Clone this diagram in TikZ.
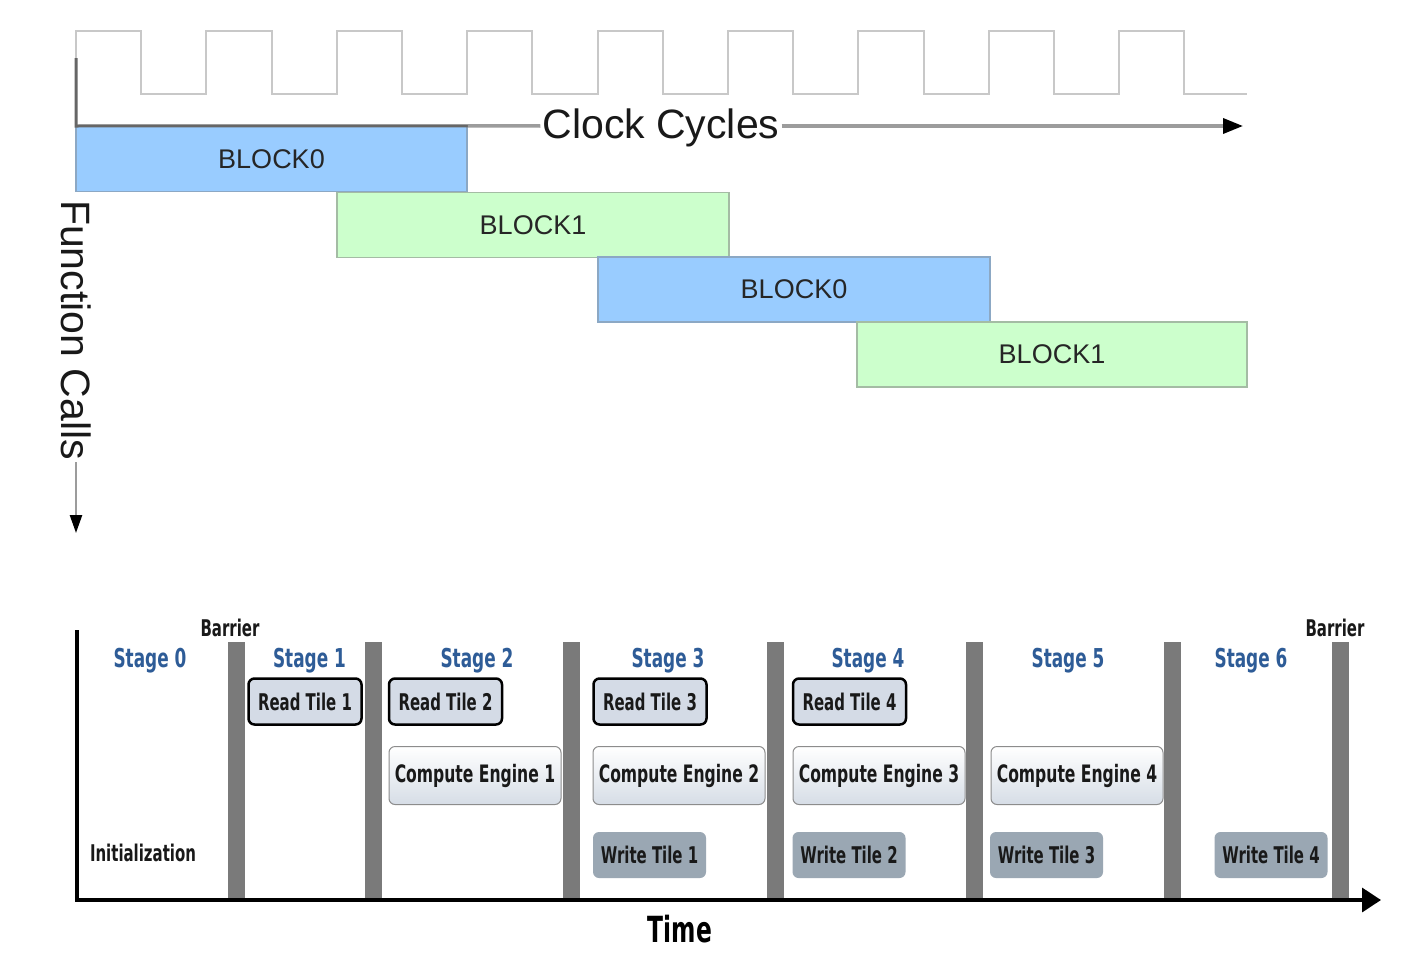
\documentclass[tikz,border=0pt]{standalone}
\usepackage{fontspec}
\setmainfont{Liberation Sans}
\newfontfamily\condsans[FakeStretch=0.65]{DejaVu Sans}
\usetikzlibrary{arrows.meta}

\definecolor{blkblue}{HTML}{99CCFF}
\definecolor{blkblueedge}{HTML}{8CA8C4}
\definecolor{blkgreen}{HTML}{CCFFCC}
\definecolor{blkgreenedge}{HTML}{A4BCA4}
\definecolor{wavegray}{HTML}{C8C8C8}
\definecolor{axisgray}{HTML}{9C9C9C}
\definecolor{stageblue}{HTML}{2E5C97}
\definecolor{readfill}{HTML}{D4DBE6}
\definecolor{writefill}{HTML}{9AA7B3}
\definecolor{computebot}{HTML}{D6DDE6}
\definecolor{barfill}{HTML}{7A7A7A}

\tikzset{
  blk/.style={minimum height=65, inner sep=0, line width=1.5,
              font=\fontsize{27}{27}\selectfont, text=black!85},
  blkA/.style={blk, fill=blkblue, draw=blkblueedge},
  blkB/.style={blk, fill=blkgreen, draw=blkgreenedge},
  tile/.style={rounded corners=6, inner sep=0,
               font=\condsans\bfseries\fontsize{23}{23}\selectfont, text=black!90},
  readtile/.style={tile, fill=readfill, draw=black, line width=2.5,
                   minimum width=113, minimum height=46},
  compute/.style={tile, top color=white, bottom color=computebot,
                  draw=black!45, line width=1, minimum width=172, minimum height=58,
                  font=\condsans\bfseries\fontsize{24}{24}\selectfont},
  writetile/.style={tile, fill=writefill, minimum width=113, minimum height=46},
  stagelbl/.style={anchor=base, font=\condsans\bfseries\fontsize{26}{26}\selectfont,
                   text=stageblue},
  plainlbl/.style={anchor=base, font=\condsans\bfseries\fontsize{23}{23}\selectfont,
                   text=black!90},
  barrier/.style={fill=barfill, minimum width=17, minimum height=258, inner sep=0},
  bigaxis/.style={font=\fontsize{41}{41}\selectfont, inner sep=2, text=black!90},
}

\begin{document}
\begin{tikzpicture}[x=1pt, y=-1pt]
\useasboundingbox (0,0) rectangle (1419,953);
\fill[white] (0,0) rectangle (1419,953);

% ---------- clock signal ----------
\draw[wavegray, line width=2]
  (76,58) -- (76,31) -| (141.2,94) -| (206.4,31) -| (271.6,94) -| (336.8,31)
  -| (402,94) -| (467.2,31) -| (532.4,94) -| (597.6,31) -| (662.8,94)
  -| (728,31) -| (793.2,94) -| (858.4,31) -| (923.6,94) -| (988.8,31)
  -| (1054,94) -| (1119.2,31) -| (1184.4,94) -- (1247,94);

% ---------- function call blocks ----------
\node[blkA, minimum width=391] (b1) at (271.5,159)   {BLOCK0};
\node[blkB, minimum width=392] (b2) at (533,225)     {BLOCK1};
\node[blkA, minimum width=392] (b3) at (794,289.5)   {BLOCK0};
\node[blkB, minimum width=390] (b4) at (1052,354.5)  {BLOCK1};

% ---------- axes of the upper chart ----------
\coordinate (corner) at (76,126);
\coordinate (ytop) at (76,58);
\node[bigaxis] (clk) at (661,128) {Clock Cycles};
\coordinate (clkend) at (1243,126);
\node[bigaxis, rotate=-90] (fc) at (76,330) {Function Calls};
\coordinate (fcend) at (76,533);

\draw[black!60, line width=3] (ytop) -- (corner) -- (b1.north east);
\draw[axisgray, line width=3.5] (b1.north east) -- (clk.west |- corner);
\draw[axisgray, line width=3.5, -{Triangle[length=20, width=15, color=black]}]
  (clk.east |- corner) -- (clkend);
\draw[axisgray, line width=2.5, -{Triangle[length=18, width=12, color=black]}]
  (fc.east) -- (fcend);

% ---------- pipeline stages ----------
\node[barrier] (bar1) at (236,771) {};
\node[barrier] (bar2) at (373,771) {};
\node[barrier] (bar3) at (571.5,771) {};
\node[barrier] (bar4) at (775.5,771) {};
\node[barrier] (bar5) at (974,771) {};
\node[barrier] (bar6) at (1172,771) {};
\node[barrier] (bar7) at (1340,771) {};

\node[plainlbl] (barlblA) at (230,636) {Barrier};
\node[plainlbl] (barlblB) at (1335,636) {Barrier};

\node[stagelbl] (s0) at (150,667)   {Stage 0};
\node[stagelbl] (s1) at (309.5,667) {Stage 1};
\node[stagelbl] (s2) at (477,667)   {Stage 2};
\node[stagelbl] (s3) at (668,667)   {Stage 3};
\node[stagelbl] (s4) at (868,667)   {Stage 4};
\node[stagelbl] (s5) at (1068,667)  {Stage 5};
\node[stagelbl] (s6) at (1251,667)  {Stage 6};

\node[readtile] (r1) at (305,701.5)   {Read Tile 1};
\node[readtile] (r2) at (445.5,701.5) {Read Tile 2};
\node[readtile] (r3) at (650,701.5)   {Read Tile 3};
\node[readtile] (r4) at (849.5,701.5) {Read Tile 4};

\node[compute] (c1) at (475,775.5)  {Compute Engine 1};
\node[compute] (c2) at (679,775.5)  {Compute Engine 2};
\node[compute] (c3) at (879,775.5)  {Compute Engine 3};
\node[compute] (c4) at (1077,775.5) {Compute Engine 4};

\node[writetile] (w1) at (649.5,855)  {Write Tile 1};
\node[writetile] (w2) at (849,855)    {Write Tile 2};
\node[writetile] (w3) at (1046.5,855) {Write Tile 3};
\node[writetile] (w4) at (1271,855)   {Write Tile 4};

\node[plainlbl] (init) at (143,861) {Initialization};

% ---------- axes of the lower chart ----------
\coordinate (origin) at (77,900);
\coordinate (tytop) at (77,630);
\coordinate (tend) at (1381,900);
\draw[black, line width=3.5, -{Triangle[length=19, width=24]}]
  (tytop) -- (origin) -- (tend);
\node[anchor=base, font=\condsans\bfseries\fontsize{36}{36}\selectfont] (time) at (680,942) {Time};

\end{tikzpicture}
\end{document}
